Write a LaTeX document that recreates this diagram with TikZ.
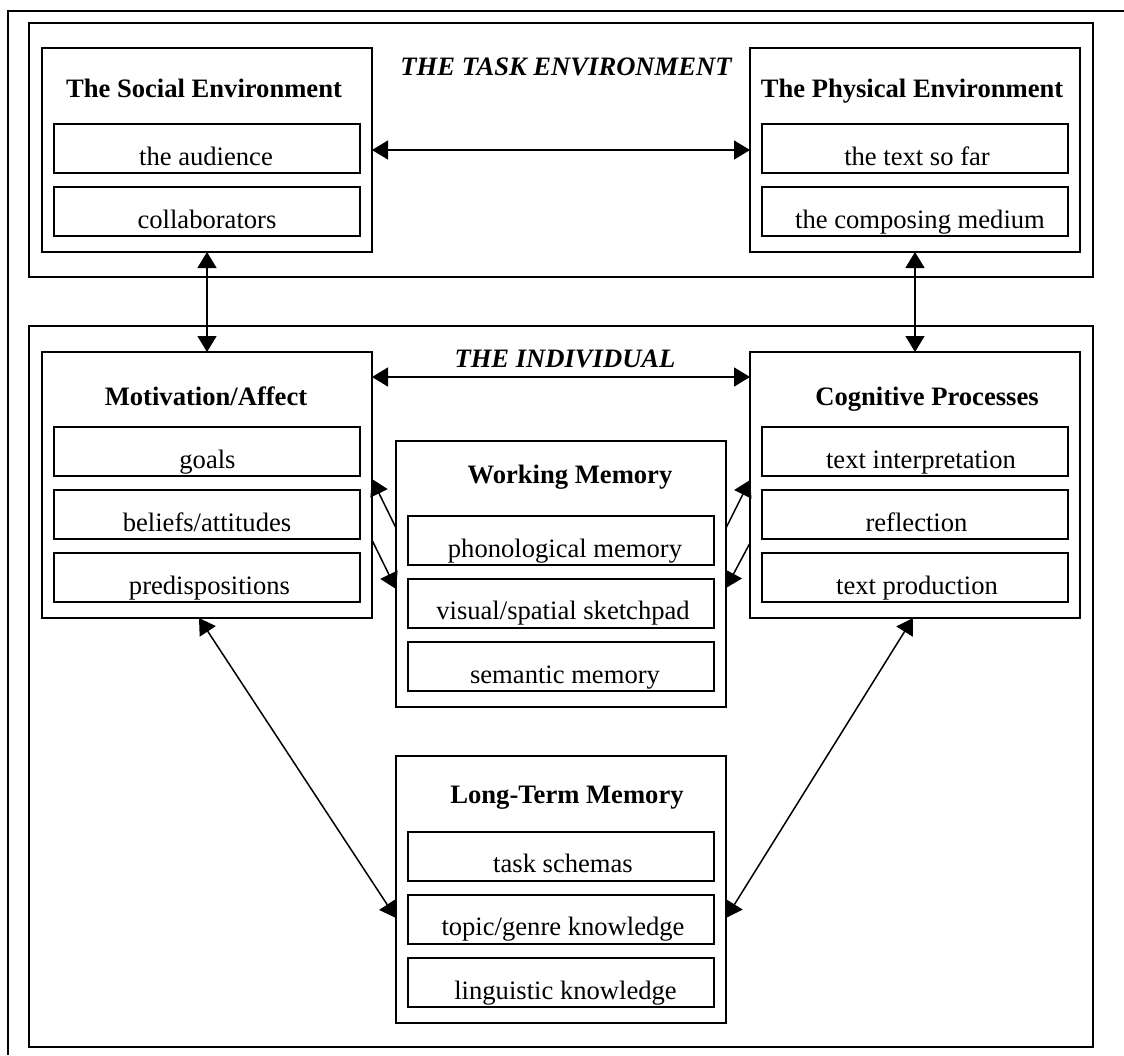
\documentclass[tikz,border=0pt]{standalone}
\usepackage{fontspec}
\setmainfont{Liberation Serif}
\usetikzlibrary{arrows.meta,calc}
\begin{document}
\begin{tikzpicture}[x=1pt,y=-1pt,
  box/.style={draw, line width=1.1pt, inner sep=0pt, outer sep=0pt, anchor=north west},
  outerbox/.style={box, minimum width=1064pt},
  groupbox/.style={box, minimum width=330pt},
  itembox/.style={box, minimum width=306pt, minimum height=49pt},
  lbl/.style={anchor=base, inner sep=0pt, font=\fontsize{26.6}{30}\selectfont},
  ttl/.style={anchor=base, inner sep=0pt, font=\fontsize{26.6}{30}\selectfont\bfseries},
  itl/.style={anchor=base, inner sep=0pt, font=\fontsize{26.6}{30}\selectfont\bfseries\itshape},
  both/.style={line width=1.5pt, {Triangle[length=16pt,width=19pt]}-{Triangle[length=16pt,width=19pt]}},
  one/.style={line width=1.5pt, -{Triangle[length=16pt,width=19pt]}}]
\useasboundingbox (0,0) rectangle (1124,1055);
% outer frame
\coordinate (ftr) at (1124,11);
\coordinate (ftl) at (8,11);
\coordinate (fbl) at (8,1055);
\draw[line width=1.6pt] (ftr) -- (ftl) -- (fbl);
% big boxes
\node[outerbox, minimum height=254pt] (task) at (29,23) {};
\node[outerbox, minimum height=721pt] (ind) at (29,326) {};
\node[itl] (taskt) at (566,75) {THE TASK ENVIRONMENT};
\node[itl] (indt) at (565,367) {THE INDIVIDUAL};
% social
\node[groupbox, minimum height=204pt] (soc) at (42,48) {};
\node[ttl] (soct) at (204,97) {The Social Environment};
\node[itembox] (aud) at (54,124) {};
\node[lbl] (audt) at (206,165.5) {the audience};
\node[itembox] (col) at (54,187) {};
\node[lbl] (colt) at (207,228.5) {collaborators};
% physical
\node[groupbox, minimum height=204pt] (phy) at (750,48) {};
\node[ttl] (phyt) at (912,97) {The Physical Environment};
\node[itembox] (tsf) at (762,124) {};
\node[lbl] (tsft) at (917,165.5) {the text so far};
\node[itembox] (med) at (762,187) {};
\node[lbl] (medt) at (920,228.5) {the composing medium};
% motivation
\node[groupbox, minimum height=266pt] (mot) at (42,352) {};
\node[ttl] (mott) at (206,405) {Motivation/Affect};
\node[itembox] (goa) at (54,427) {};
\node[lbl] (goat) at (207.5,468.5) {goals};
\node[itembox] (bel) at (54,490) {};
\node[lbl] (belt) at (207,531.5) {beliefs/attitudes};
\node[itembox] (pre) at (54,553) {};
\node[lbl] (pret) at (209.5,594.5) {predispositions};
% cognitive
\node[groupbox, minimum height=266pt] (cog) at (750,352) {};
\node[ttl] (cogt) at (927,405) {Cognitive Processes};
\node[itembox] (tin) at (762,427) {};
\node[lbl] (tint) at (921,468.5) {text interpretation};
\node[itembox] (ref) at (762,490) {};
\node[lbl] (reft) at (916.5,531.5) {reflection};
\node[itembox] (tpr) at (762,553) {};
\node[lbl] (tprt) at (917,594.5) {text production};
% working memory
\node[groupbox, minimum height=266pt] (wm) at (396,441) {};
\node[ttl] (wmt) at (570,483) {Working Memory};
\node[itembox] (pho) at (408,516) {};
\node[lbl] (phot) at (565,557.5) {phonological memory};
\node[itembox] (vis) at (408,579) {};
\node[lbl] (vist) at (563,619.5) {visual/spatial sketchpad};
\node[itembox] (sem) at (408,642) {};
\node[lbl] (semt) at (565,683.5) {semantic memory};
% long-term memory
\node[groupbox, minimum height=267pt] (ltm) at (396,756) {};
\node[ttl] (ltmt) at (567,803) {Long-Term Memory};
\node[itembox] (tsc) at (408,832) {};
\node[lbl] (tsct) at (563,872.5) {task schemas};
\node[itembox] (tgk) at (408,895) {};
\node[lbl] (tgkt) at (563,935.5) {topic/genre knowledge};
\node[itembox] (lkn) at (408,958) {};
\node[lbl] (lknt) at (565.5,999.5) {linguistic knowledge};
% connectors
\draw[both] (soc.east) -- (phy.west);
\draw[both] (soc.south) -- (mot.north);
\draw[both] (phy.south) -- (cog.north);
\draw[both] ($(mot.north east)+(0,25)$) -- ($(cog.north west)+(0,25)$);
\draw[one] ($(wm.north west)+(0,87)$) -- ($(mot.north east)+(0,127)$);
\draw[one] ($(mot.north east)+(0,188)$) -- ($(wm.north west)+(0,148)$);
\draw[one] ($(wm.north east)+(0,87)$) -- ($(cog.north west)+(0,128)$);
\draw[one] ($(cog.north west)+(0,191)$) -- ($(wm.north east)+(0,147)$);
\draw[both] ($(mot.south)+(-8,0)$) -- ($(ltm.north west)+(0,162)$);
\draw[both] ($(cog.south)+(-2,0)$) -- ($(ltm.north east)+(0,162)$);
\end{tikzpicture}
\end{document}
